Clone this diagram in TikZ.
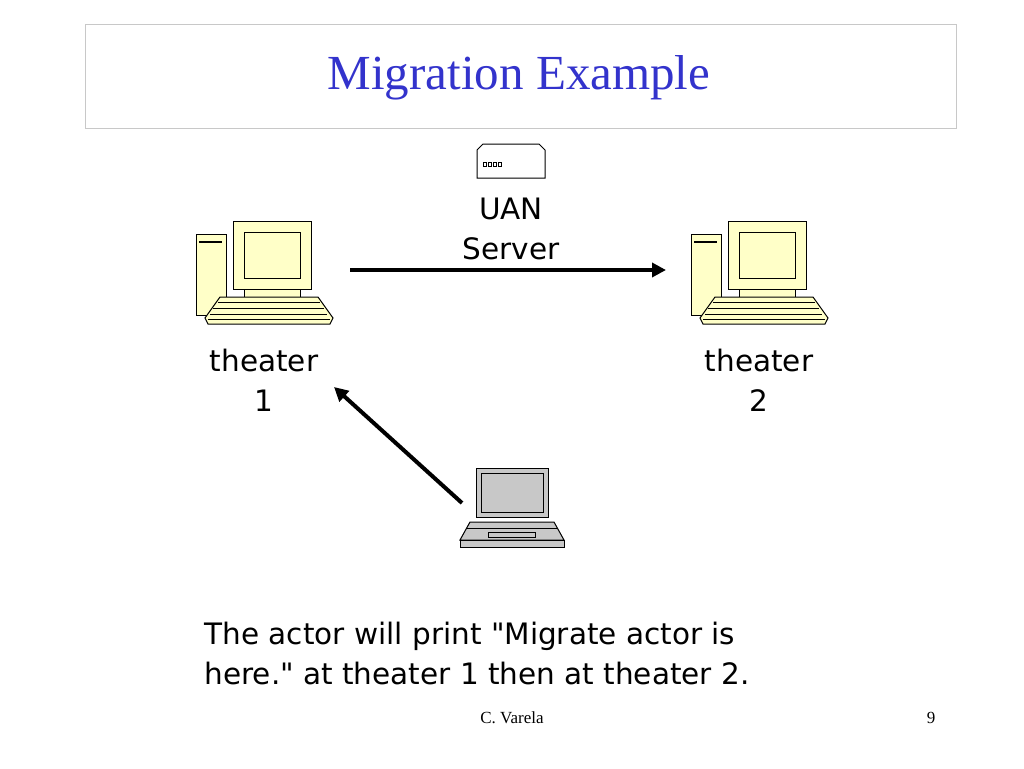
\documentclass[tikz,border=0pt]{standalone}
\usepackage{fontspec}
\setmainfont{Liberation Serif}
\newfontfamily\sans{DejaVu Sans}
\usetikzlibrary{arrows.meta}
\definecolor{cream}{HTML}{FFFFC8}
\definecolor{lgray}{HTML}{C8C8C8}
\definecolor{tblue}{HTML}{3333CC}
\begin{document}
\begin{tikzpicture}[x=1pt,y=-1pt,
  part/.style={draw=black,line width=1pt,fill=cream},
  lpart/.style={draw=black,line width=1pt,fill=lgray},
  lbl/.style={font=\sans\fontsize{29.5}{40}\selectfont,align=center},
  conn/.style={line width=4pt,-{Triangle[length=14pt,width=14pt]}}]
\useasboundingbox (0,0) rectangle (1024,768);
\node[draw=lgray,line width=1pt,minimum width=871pt,minimum height=103pt] (tbox) at (520.5,76.5) {};
\node[text=tblue,font=\fontsize{49}{56}\selectfont] (title) at (519,78) {Migration Example};
% computers
\foreach \dx in {0,495}{
\begin{scope}[xshift=\dx pt]
\draw[part] (196,234) rectangle (226,315);
\draw[line width=2pt] (199,242) -- (222,242);
\draw[part] (244,289) rectangle (300,298);
\draw[part] (233,221) rectangle (311,289);
\draw[part] (244,232) rectangle (300,278);
\draw[part] (220,297) -- (318,297) -- (333,318) -- (330,324) -- (208,324) -- (205,318) -- cycle;
\draw (218,302)--(320,302) (213,308)--(324,308) (210,314)--(327,314) (208,319)--(330,319);
\end{scope}}
% server
\draw[draw=black,line width=1pt,fill=white] (477,178) -- (477,150) -- (483,144) -- (539,144) -- (545,150) -- (545,178) -- cycle;
\foreach \x in {483,488,493,498} \draw[line width=0.7pt] (\x,162) rectangle ++(3.5,4);
\node[lbl] (uan) at (511,229) {UAN\\Server};
% laptop
\draw[lpart] (476,468) rectangle (548,517);
\draw[lpart] (481,473) rectangle (543,512);
\draw[lpart] (470,522) -- (554,522) -- (564,540) -- (460,540) -- cycle;
\draw[lpart] (460,540) rectangle (564,547);
\draw (466,528) -- (558,528);
\draw[lpart] (488,532) rectangle (535,537);
\coordinate (lap) at (462,503);
% labels
\node[lbl] (t1) at (264,380) {theater\\1};
\node[lbl] (t2) at (759,380) {theater\\2};
\coordinate (a1) at (350,270);
\coordinate (a2) at (666,270);
\coordinate (b2) at (334,387);
\draw[conn] (a1) -- (a2);
\draw[conn] (lap) -- (b2);
\node[lbl,align=left,anchor=west] (txt) at (201,653) {The actor will print "Migrate actor is\\here." at theater 1 then at theater 2.};
\node[font=\fontsize{17}{18}\selectfont] (ft) at (512,718) {C. Varela};
\node[font=\fontsize{17}{18}\selectfont] (pg) at (931,718) {9};
\end{tikzpicture}
\end{document}
